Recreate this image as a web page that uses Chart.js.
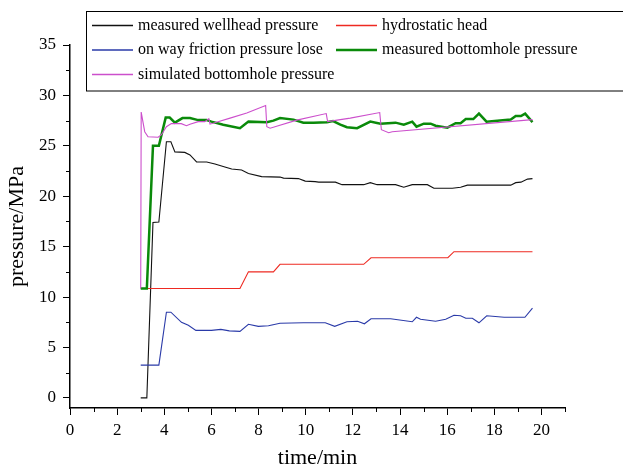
<!DOCTYPE html>
<html>
<head>
<meta charset="utf-8">
<script src="https://cdn.jsdelivr.net/npm/chart.js@4"></script>
<style>
  html, body { margin: 0; padding: 0; background: #fff; }
  #wrap { width: 623px; height: 469px; }
</style>
</head>
<body>
<div id="wrap"><canvas id="pressure" width="623" height="469"></canvas></div>
<script>
// series (time in min, pressure in MPa)
const wellheadT = [3.0, 3.26, 3.52, 3.77, 4.09, 4.28, 4.45, 4.87, 5.09, 5.37, 5.8, 6.15, 6.57, 6.86, 7.28, 7.57, 8.13, 8.91, 9.06, 9.69, 9.98, 10.4, 10.55, 11.26, 11.54, 12.46, 12.74, 13.03, 13.81, 14.16, 14.52, 15.16, 15.44, 16.22, 16.57, 16.86, 18.7, 18.91, 19.13, 19.41, 19.62];
const wellheadP = [0, 0, 17.4, 17.45, 25.4, 25.4, 24.4, 24.35, 24.1, 23.4, 23.4, 23.2, 22.9, 22.7, 22.6, 22.25, 21.95, 21.9, 21.8, 21.75, 21.5, 21.45, 21.4, 21.4, 21.15, 21.15, 21.35, 21.15, 21.15, 20.9, 21.15, 21.15, 20.8, 20.8, 20.9, 21.1, 21.1, 21.35, 21.4, 21.7, 21.75];

const hydroT = [3.0, 7.21, 7.57, 8.63, 8.91, 12.46, 12.77, 16.03, 16.29, 19.62];
const hydroP = [10.85, 10.85, 12.5, 12.5, 13.25, 13.25, 13.9, 13.9, 14.5, 14.5];

const frictionT = [3.0, 3.77, 4.09, 4.28, 4.73, 5.02, 5.34, 6.0, 6.4, 6.76, 7.21, 7.57, 7.99, 8.42, 8.91, 9.9, 10.83, 11.23, 11.75, 12.2, 12.49, 12.77, 13.6, 14.52, 14.7, 14.87, 15.51, 15.94, 16.29, 16.57, 16.79, 17.07, 17.35, 17.68, 18.42, 19.3, 19.62];
const frictionP = [3.25, 3.25, 8.5, 8.5, 7.5, 7.2, 6.7, 6.7, 6.8, 6.65, 6.6, 7.3, 7.1, 7.15, 7.4, 7.45, 7.45, 7.1, 7.55, 7.6, 7.35, 7.85, 7.85, 7.55, 8.0, 7.8, 7.6, 7.8, 8.2, 8.15, 7.9, 7.9, 7.45, 8.15, 8.0, 8.0, 8.9];

const measuredT = [3.0, 3.26, 3.52, 3.77, 4.06, 4.23, 4.45, 4.77, 5.09, 5.44, 5.8, 6.0, 6.5, 7.21, 7.57, 8.35, 8.63, 8.91, 9.48, 9.9, 10.33, 10.9, 11.16, 11.47, 11.75, 12.18, 12.74, 13.17, 13.81, 14.16, 14.52, 14.7, 15.01, 15.3, 15.51, 16.01, 16.36, 16.57, 16.79, 17.11, 17.35, 17.67, 18.7, 18.91, 19.13, 19.31, 19.62];
const measuredP = [10.85, 10.85, 25.0, 25.0, 27.8, 27.8, 27.3, 27.75, 27.75, 27.55, 27.55, 27.4, 27.1, 26.75, 27.4, 27.35, 27.5, 27.75, 27.6, 27.3, 27.3, 27.35, 27.45, 27.1, 26.85, 26.75, 27.4, 27.2, 27.3, 27.1, 27.4, 26.9, 27.2, 27.2, 27.0, 26.8, 27.25, 27.25, 27.65, 27.65, 28.2, 27.4, 27.6, 27.95, 27.95, 28.2, 27.35];

const simulatedT = [3.0, 3.02, 3.17, 3.31, 3.74, 3.88, 4.09, 4.3, 4.72, 4.94, 5.09, 5.44, 5.72, 5.89, 5.94, 6.79, 7.5, 8.3, 8.35, 8.49, 9.62, 10.87, 10.93, 11.47, 11.89, 13.14, 13.21, 13.52, 13.67, 19.62];
const simulatedP = [10.85, 28.35, 26.4, 25.9, 25.85, 26.1, 26.9, 27.2, 27.2, 27.0, 27.15, 27.4, 27.4, 27.7, 27.15, 27.75, 28.25, 29.0, 26.9, 26.75, 27.55, 28.2, 27.4, 27.6, 27.75, 28.3, 26.6, 26.3, 26.4, 27.6];

const xTicks = [0, 2, 4, 6, 8, 10, 12, 14, 16, 18, 20];
const yTicks = [0, 5, 10, 15, 20, 25, 30, 35];

const serif = 'Liberation Serif';

function pts(t, p) {
  return t.map((v, i) => ({ x: v, y: p[i] }));
}

// Origin style short ticks in between the labelled ones
const minorTicks = {
  id: 'minorTicks',
  afterDraw(chart) {
    const ctx = chart.ctx;
    const xs = chart.scales.x, ys = chart.scales.y;
    const area = chart.chartArea;
    ctx.save();
    ctx.strokeStyle = '#000';
    ctx.lineWidth = 1;
    ctx.beginPath();
    for (let v = 1; v <= 21; v += 2) {
      const px = Math.round(xs.getPixelForValue(v)) + 0.5;
      ctx.moveTo(px, area.bottom);
      ctx.lineTo(px, area.bottom + 4);
    }
    for (let v = 2.5; v < 35; v += 5) {
      const py = Math.round(ys.getPixelForValue(v)) + 0.5;
      ctx.moveTo(area.left, py);
      ctx.lineTo(area.left - 4, py);
    }
    ctx.stroke();
    ctx.restore();
  }
};

// boxed legend, two columns like the original
const boxLegend = {
  id: 'boxLegend',
  afterDraw(chart) {
    const ctx = chart.ctx;
    const ds = chart.data.datasets;
    const slots = [
      [0, 92, 25.5], [1, 336, 25.5],
      [2, 92, 50], [3, 336, 50],
      [4, 92, 74.5]
    ];
    ctx.save();
    ctx.fillStyle = '#fff';
    ctx.fillRect(86, 11, 540, 80);
    ctx.strokeStyle = '#000';
    ctx.lineWidth = 1;
    ctx.strokeRect(86.5, 11.5, 540, 79.5);
    ctx.font = '16px "' + serif + '"';
    ctx.textBaseline = 'middle';
    ctx.textAlign = 'left';
    slots.forEach(([i, x, y]) => {
      const d = ds[i];
      ctx.strokeStyle = d.borderColor;
      ctx.lineWidth = d.borderWidth > 2 ? 2.5 : 1.5;
      ctx.beginPath();
      ctx.moveTo(x, y);
      ctx.lineTo(x + 41, y);
      ctx.stroke();
      ctx.fillStyle = '#000';
      ctx.fillText(d.label, x + 46, y);
    });
    ctx.restore();
  }
};

new Chart(document.getElementById('pressure'), {
  type: 'line',
  data: {
    datasets: [
      { label: 'measured wellhead pressure', data: pts(wellheadT, wellheadP), borderColor: '#111111', borderWidth: 1.1, order: 4 },
      { label: 'hydrostatic head', data: pts(hydroT, hydroP), borderColor: '#ee2a22', borderWidth: 1.1, order: 3 },
      { label: 'on way friction pressure lose', data: pts(frictionT, frictionP), borderColor: '#2a3aa8', borderWidth: 1.1, order: 2 },
      { label: 'measured bottomhole pressure', data: pts(measuredT, measuredP), borderColor: '#0a8a0a', borderWidth: 2.5, order: 1 },
      { label: 'simulated bottomhole pressure', data: pts(simulatedT, simulatedP), borderColor: '#cc4fcc', borderWidth: 1.1, order: 0 }
    ]
  },
  options: {
    responsive: false,
    animation: false,
    devicePixelRatio: 1,
    layout: { padding: { top: 45, right: 58, left: 0, bottom: 0 } },
    elements: { point: { radius: 0 }, line: { tension: 0, fill: false } },
    plugins: { legend: { display: false }, tooltip: { enabled: false } },
    scales: {
      x: {
        type: 'linear',
        min: 0,
        max: 21,
        afterBuildTicks: s => { s.ticks = xTicks.map(v => ({ value: v })); },
        afterFit: s => { s.height = 61; },
        grid: { drawOnChartArea: false, drawTicks: true, tickLength: 7, tickColor: '#000', tickWidth: 1 },
        border: { display: true, color: '#000', width: 1.5 },
        ticks: { autoSkip: false, maxRotation: 0, padding: 5, color: '#000', font: { family: serif, size: 17 } },
        title: { display: true, text: 'time/min', color: '#000', padding: { top: 0, bottom: 0 }, font: { family: serif, size: 22, lineHeight: 1 } }
      },
      y: {
        min: -1,
        max: 35,
        afterBuildTicks: s => { s.ticks = yTicks.map(v => ({ value: v })); },
        afterFit: s => { s.width = 70; },
        grid: { drawOnChartArea: false, drawTicks: true, tickLength: 7, tickColor: '#000', tickWidth: 1 },
        border: { display: true, color: '#000', width: 1.5 },
        ticks: { padding: 7, color: '#000', font: { family: serif, size: 17 } },
        title: { display: true, text: 'pressure/MPa', color: '#000', padding: { top: 6, bottom: 0 }, font: { family: serif, size: 22, lineHeight: 1 } }
      }
    }
  },
  plugins: [minorTicks, boxLegend]
});
</script>
</body>
</html>
